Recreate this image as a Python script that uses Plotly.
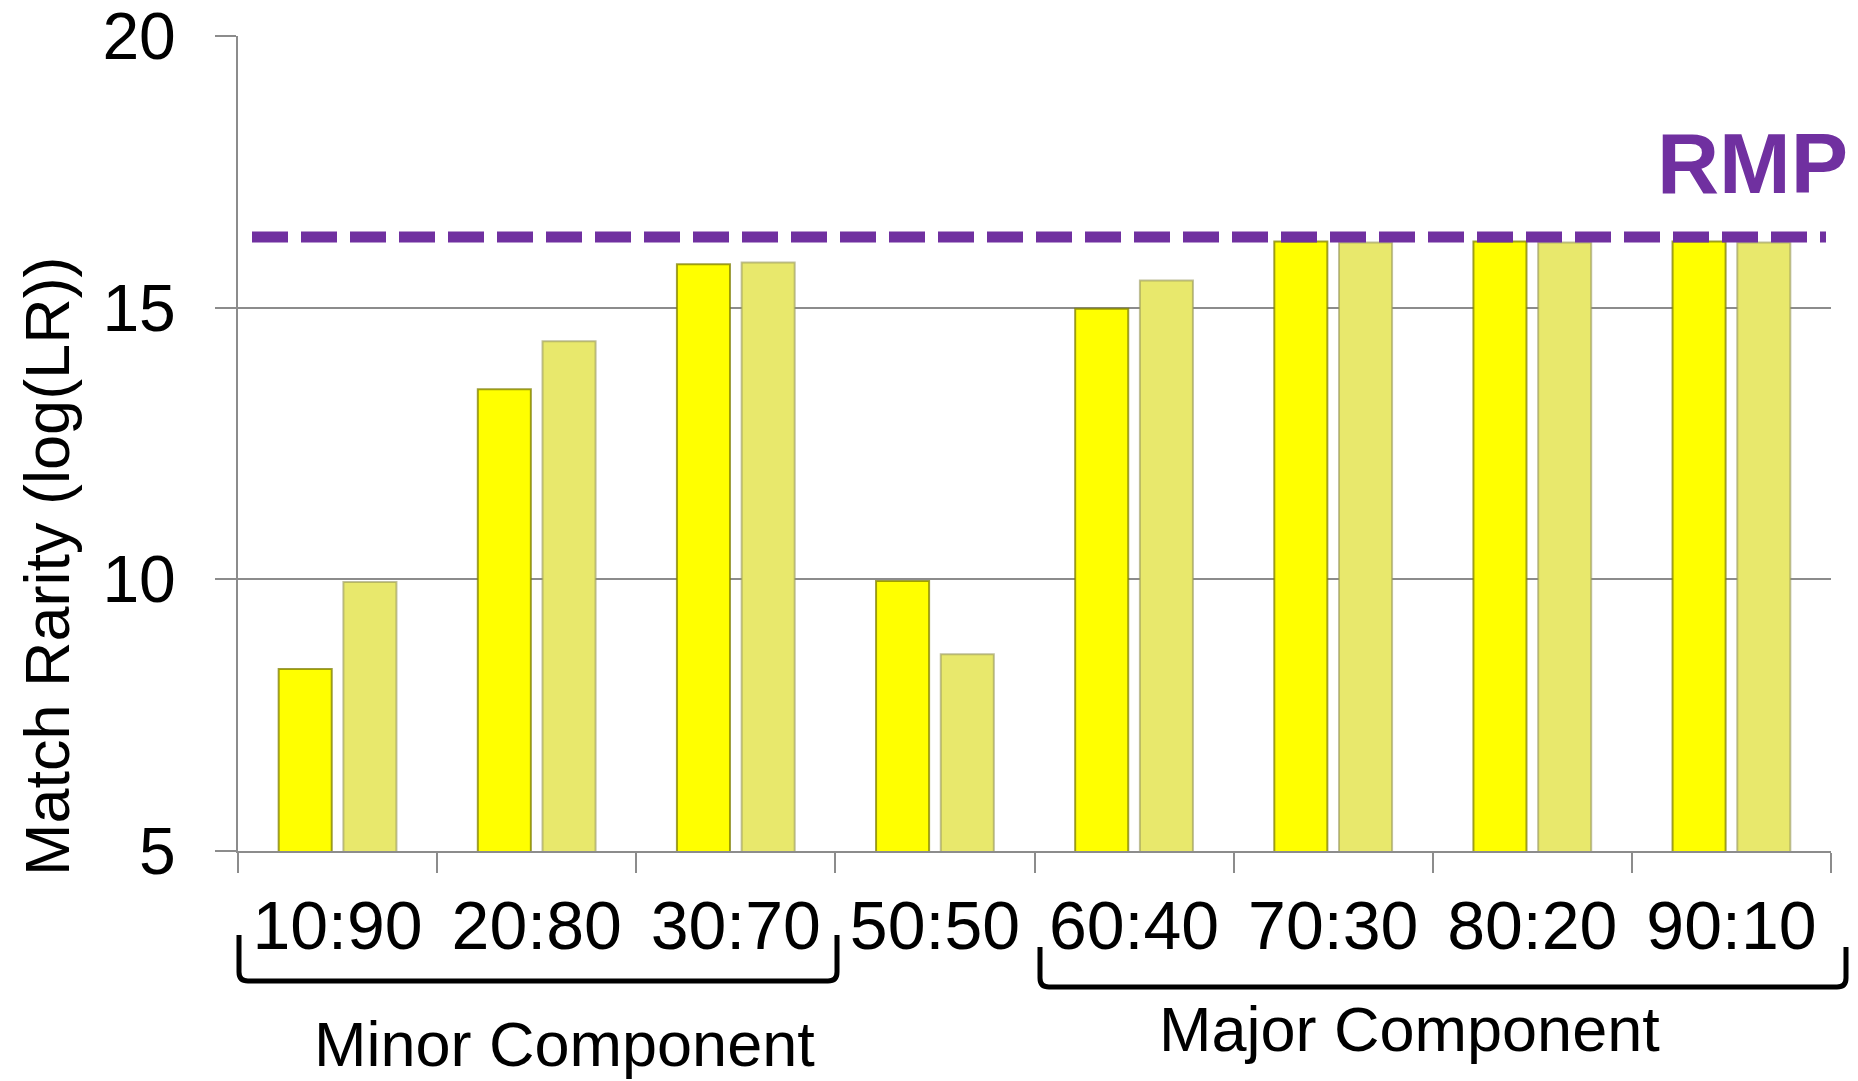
import plotly.graph_objects as go

categories = ["10:90", "20:80", "30:70", "50:50", "60:40", "70:30", "80:20", "90:10"]
series_a = [8.35, 13.5, 15.8, 9.97, 14.98, 16.22, 16.22, 16.22]
series_b = [9.95, 14.38, 15.83, 8.62, 15.5, 16.2, 16.2, 16.2]
rmp_value = 16.3
y_ticks = [5, 10, 15, 20]
group_labels = ["Minor Component", "Major Component"]

W, H = 1858, 1081
L, R, T, B = 238, 27, 36, 230
PW = W - L - R
PH = H - T - B


def px(xp):
    """page pixel x -> paper fraction"""
    return (xp - L) / PW


def py(yp):
    """page pixel y -> paper fraction"""
    return (H - B - yp) / PH


FONT = "Liberation Sans, Arial, sans-serif"

fig = go.Figure()
fig.add_trace(go.Bar(
    x=categories, y=series_a,
    marker=dict(color="#FFFF00", line=dict(color="rgba(125,125,0,0.75)", width=2)),
    showlegend=False,
))
fig.add_trace(go.Bar(
    x=categories, y=series_b,
    marker=dict(color="#E8E86C", line=dict(color="rgba(150,150,90,0.6)", width=2)),
    showlegend=False,
))

# RMP dashed reference line
fig.add_shape(type="line", xref="paper", yref="y",
              x0=px(252), x1=px(1826), y0=rmp_value, y1=rmp_value,
              line=dict(color="#7030A0", width=11, dash="36px,13px"), layer="above")


def bracket(x0, x1, ytop, ybot, r=9):
    a0, a1 = px(x0), px(x1)
    t, b = py(ytop), py(ybot)
    rx = r / PW
    ry = r / PH
    return (f"M {a0},{t} L {a0},{b + ry} Q {a0},{b} {a0 + rx},{b} "
            f"L {a1 - rx},{b} Q {a1},{b} {a1},{b + ry} L {a1},{t}")


fig.add_shape(type="path", xref="paper", yref="paper",
              path=bracket(239, 837, 935, 981), line=dict(color="black", width=5))
fig.add_shape(type="path", xref="paper", yref="paper",
              path=bracket(1040, 1846, 947, 987), line=dict(color="black", width=5))

annotations = [
    dict(text="Match Rarity (log(LR))", x=px(47), y=py(566), xref="paper", yref="paper",
         textangle=-90, showarrow=False, xanchor="center", yanchor="middle",
         font=dict(family=FONT, size=63, color="black")),
    dict(text="<b>RMP</b>", x=px(1850), y=py(163), xref="paper", yref="paper",
         showarrow=False, xanchor="right", yanchor="middle",
         font=dict(family=FONT, size=86, color="#7030A0")),
    dict(text=group_labels[0], x=px(564), y=py(1044), xref="paper", yref="paper",
         showarrow=False, xanchor="center", yanchor="middle",
         font=dict(family=FONT, size=63, color="black")),
    dict(text=group_labels[1], x=px(1409), y=py(1029), xref="paper", yref="paper",
         showarrow=False, xanchor="center", yanchor="middle",
         font=dict(family=FONT, size=63, color="black")),
]

fig.update_layout(
    template="none",
    width=W, height=H,
    margin=dict(l=L, r=R, t=T, b=B, pad=0, autoexpand=False),
    paper_bgcolor="white", plot_bgcolor="white",
    barmode="group", bargap=0.35, bargroupgap=0.18,
    font=dict(family=FONT, color="black"),
    annotations=annotations,
    showlegend=False,
)
fig.update_xaxes(
    type="category", categoryorder="array", categoryarray=categories,
    range=[-0.5, len(categories) - 0.5], automargin=False,
    showline=True, linecolor="#8C8C8C", linewidth=2,
    ticks="outside", tickson="boundaries", ticklen=20, tickwidth=2, tickcolor="#8C8C8C",
    tickfont=dict(family=FONT, size=68, color="black"),
    ticklabelstandoff=14, ticklabeloverflow="allow",
    showgrid=False, zeroline=False,
)
fig.update_yaxes(
    range=[5, 20], tickvals=y_ticks, ticktext=[str(v) for v in y_ticks], automargin=False,
    showline=True, linecolor="#8C8C8C", linewidth=2,
    ticks="outside", ticklen=21, tickwidth=2, tickcolor="#8C8C8C",
    tickfont=dict(family=FONT, size=66, color="black"),
    ticklabelstandoff=26, ticklabeloverflow="allow",
    showgrid=True, gridcolor="#8C8C8C", gridwidth=1.5,
    zeroline=False,
)

# remove the default 8px page margin so the figure fills the window exactly
fig.write_html("out.html", config={"displayModeBar": False},
               post_script="document.body.style.margin='0';")
